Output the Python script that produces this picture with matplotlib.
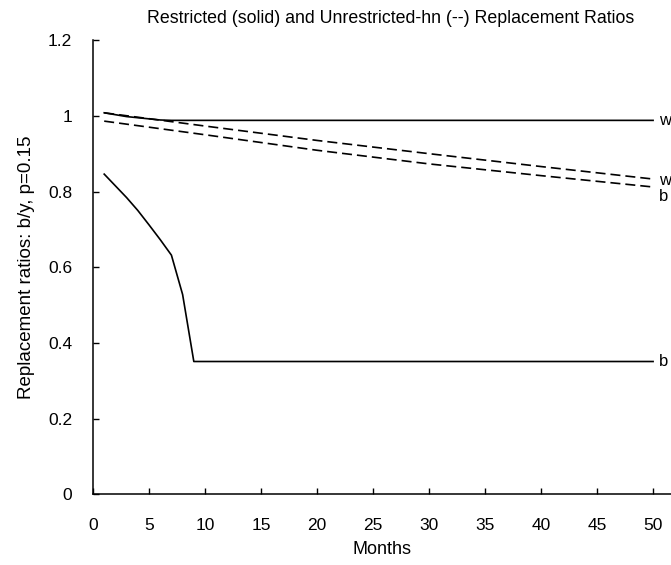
import matplotlib
matplotlib.use("Agg")
import matplotlib.pyplot as plt

plt.rcParams['font.family'] = ['Liberation Sans', 'DejaVu Sans']

# Restricted (solid) series
months_solid = [1, 2, 3, 4, 5, 6, 7, 8, 9, 10, 20, 30, 40, 50]
restricted_w = [1.008, 1.003, 0.998, 0.995, 0.992, 0.989, 0.988, 0.988, 0.988, 0.988, 0.988, 0.988, 0.988, 0.988]
restricted_b = [0.846, 0.815, 0.784, 0.750, 0.712, 0.673, 0.632, 0.528, 0.351, 0.351, 0.351, 0.351, 0.351, 0.351]

# Unrestricted-hn (dashed) series
months_dashed = [1, 10, 20, 30, 40, 50]
unrestricted_w = [1.008, 0.973, 0.935, 0.900, 0.866, 0.833]
unrestricted_b = [0.986, 0.950, 0.909, 0.873, 0.842, 0.812]

x_ticks = [0, 5, 10, 15, 20, 25, 30, 35, 40, 45, 50]
y_ticks = [0, 0.2, 0.4, 0.6, 0.8, 1.0, 1.2]
y_tick_labels = ["0", "0.2", "0.4", "0.6", "0.8", "1", "1.2"]

labels = [("w", 0.988), ("w", 0.828), ("b", 0.788), ("b", 0.351)]

fig = plt.figure(figsize=(6.71, 5.65), dpi=100)
ax = fig.add_axes([0.1386, 0.125, 0.8614, 0.804])

lw = 1.2
ax.plot(months_solid, restricted_w, color="black", lw=lw)
ax.plot(months_solid, restricted_b, color="black", lw=lw)
ax.plot(months_dashed, unrestricted_w, color="black", lw=lw, dashes=(6, 3))
ax.plot(months_dashed, unrestricted_b, color="black", lw=lw, dashes=(6, 3))

for txt, yv in labels:
    ax.text(50.5, yv, txt, ha="left", va="center", fontsize=12)

ax.set_xlim(0, 51.6)
ax.set_ylim(0, 1.2)
ax.set_xticks(x_ticks)
ax.set_xticklabels([str(t) for t in x_ticks])
ax.set_yticks(y_ticks)
ax.set_yticklabels(y_tick_labels)

for s in ["top", "right"]:
    ax.spines[s].set_visible(False)
for s in ["left", "bottom"]:
    ax.spines[s].set_linewidth(1.1)

ax.tick_params(axis="both", direction="in", length=4, width=1.0, labelsize=12.5)
ax.tick_params(axis="x", pad=17)
ax.tick_params(axis="y", pad=15)

ax.set_title("Restricted (solid) and Unrestricted-hn (--) Replacement Ratios",
             fontsize=12.8, pad=12, x=0.515)
ax.set_xlabel("Months", fontsize=13, labelpad=6)
ax.set_ylabel("Replacement ratios: b/y, p=0.15", fontsize=13.5, labelpad=9)

fig.savefig("out.png", dpi=100)
